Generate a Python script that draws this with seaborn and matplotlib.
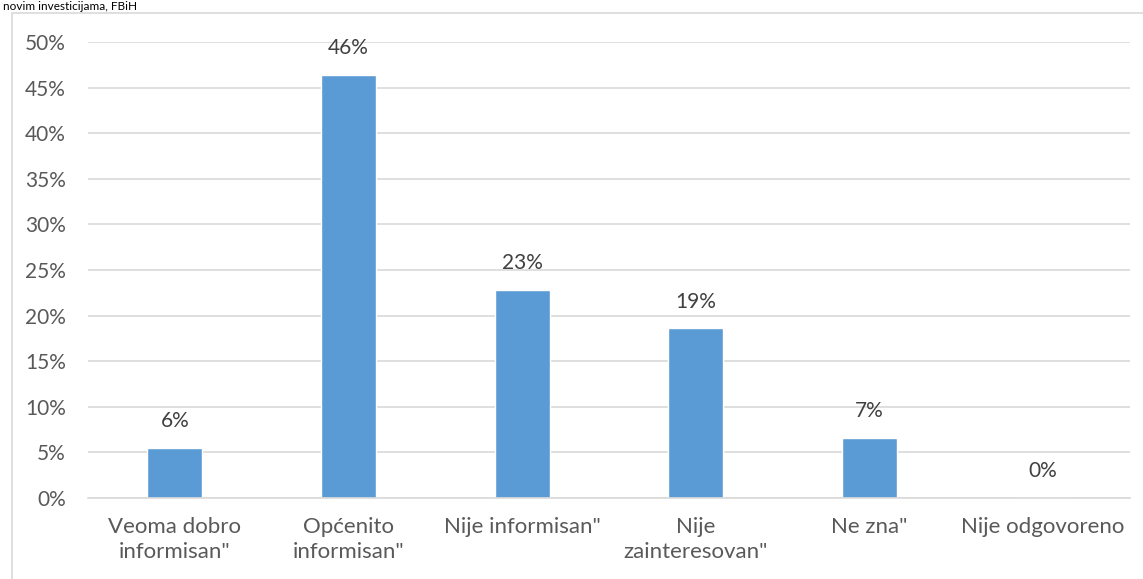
import matplotlib
matplotlib.use("Agg")
import matplotlib.pyplot as plt
import matplotlib.patches as mpatches
import numpy as np
import pandas as pd
import seaborn as sns

categories = ["Veoma dobro\ninformisan\"", "Općenito\ninformisan\"", "Nije informisan\"",
              "Nije\nzainteresovan\"", "Ne zna\"", "Nije odgovoreno"]
values = [5.5, 46.4, 22.8, 18.6, 6.6, 0.0]
value_labels = ["6%", "46%", "23%", "19%", "7%", "0%"]
yticks = [0, 5, 10, 15, 20, 25, 30, 35, 40, 45, 50]
title_cut = "novim investicijama, FBiH"

sns.set_theme(style="white")
plt.rcParams["font.family"] = ["Lato", "DejaVu Sans"]

W, H = 1143, 579
fig = plt.figure(figsize=(W / 100, H / 100), dpi=100)
ax = fig.add_axes([88 / W, 1 - 498 / H, (1130 - 88) / W, (498 - 42) / H])

df = pd.DataFrame({"cat": categories, "val": values})
sns.barplot(data=df, x="cat", y="val", color="#5B9BD5", saturation=1, width=0.317, ax=ax)

ax.set_ylim(0, 50)
ax.set_yticks(yticks)
ax.set_yticklabels([f"{t}%" for t in yticks])
ax.set_xlabel("")
ax.set_ylabel("")
ax.yaxis.grid(True, color="#D9D9D9", linewidth=1.2)
ax.set_axisbelow(True)
for s in ["top", "right", "left"]:
    ax.spines[s].set_visible(False)
ax.spines["bottom"].set_color("#D9D9D9")
ax.spines["bottom"].set_linewidth(1.2)
ax.tick_params(axis="both", length=0, labelsize=15, colors="#595959")
ax.tick_params(axis="y", pad=16)
ax.tick_params(axis="x", pad=14, labelsize=16)
for lbl in ax.get_xticklabels():
    lbl.set_linespacing(1.3)

ax.bar_label(ax.containers[0], labels=value_labels, padding=12, fontsize=15, color="#404040")

# outer chart frame
frame = mpatches.Rectangle((12 / W, -0.05), 1.2, 1 - 13 / H + 0.05, transform=fig.transFigure,
                           fill=False, edgecolor="#D9D9D9", linewidth=1.2)
fig.add_artist(frame)
fig.text(0.003, 0.999, title_cut, fontsize=8.5, color="black", va="top", ha="left")

fig.savefig("out.png", dpi=100)
